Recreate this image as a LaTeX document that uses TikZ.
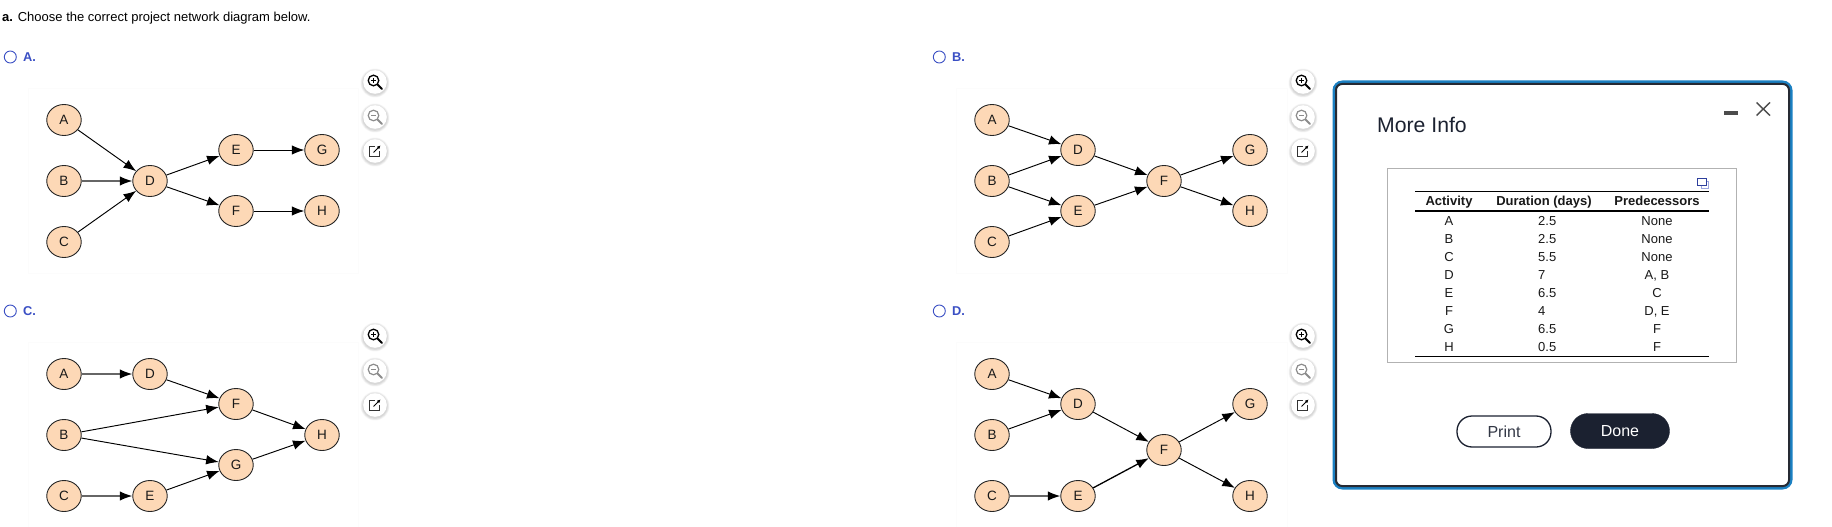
\documentclass[tikz,border=0pt]{standalone}
\usepackage{fontspec}
\setmainfont{Liberation Sans}
\usetikzlibrary{arrows.meta,shapes.geometric}
\definecolor{nodefill}{HTML}{FDD8B6}
\definecolor{optblue}{HTML}{3A4FC4}
\definecolor{dlgblue}{HTML}{1B80C2}
\definecolor{dlgdark}{HTML}{262A33}
\definecolor{navy}{HTML}{1B2130}
\newcommand{\fsz}[1]{\fontsize{#1}{#1}\selectfont}
\tikzset{
  x=1pt,y=-1pt,
  act/.style={draw=black!85,line width=0.9pt,fill=nodefill,ellipse,inner sep=0pt,minimum width=34.5pt,minimum height=31pt,font=\fsz{13.5},text=black!90},
  edge/.style={draw=black,line width=0.95pt,-{Latex[length=12.5pt,width=9.5pt]}},
  grayedge/.style={draw=black!60,line width=1.3pt,-{Latex[length=12.5pt,width=9.5pt,black]}},
  radio/.style={circle,draw=optblue,fill=white,line width=0.9pt,minimum size=12pt,inner sep=0pt},
  optlabel/.style={anchor=west,inner sep=0pt,text=optblue,font=\fsz{12.8}\bfseries},
  cell/.style={inner sep=0pt,anchor=base,font=\fsz{13},text=black!90},
  headcell/.style={inner sep=0pt,anchor=base,font=\fsz{13}\bfseries,text=black!90},
  panelbox/.style={draw=black!1,line width=0.5pt},
}
\newcommand{\btnbase}[2]{%
  \foreach \r in {14.5,14,13.5,13,12.5} {\fill[black,opacity=0.03] (#1,#2+1) circle[radius=\r];}
  \fill[white] (#1,#2) circle[radius=11.8];}
\newcommand{\btns}[2]{%
  \btnbase{#1}{#2}
  \draw[black,line width=1.3pt] (#1-1.5,#2-1.5) circle[radius=5.3];
  \draw[black,line width=2pt,line cap=round] (#1+2.5,#2+2.5) -- (#1+7,#2+7);
  \draw[black,line width=0.8pt] (#1-4,#2-1.5) -- (#1+1,#2-1.5) (#1-1.5,#2-4) -- (#1-1.5,#2+1);
  \btnbase{#1}{#2+35}
  \draw[black!45,line width=1.2pt] (#1-1.5,#2+33.5) circle[radius=5.3];
  \draw[black!45,line width=1.8pt,line cap=round] (#1+2.5,#2+37.5) -- (#1+7,#2+42);
  \draw[black!45,line width=0.8pt] (#1-4,#2+33.5) -- (#1+1,#2+33.5);
  \btnbase{#1}{#2+69}
  \draw[black!80,line width=0.9pt] (#1,#2+64.5) -- (#1-5.5,#2+64.5) -- (#1-5.5,#2+74.5) -- (#1+4.5,#2+74.5) -- (#1+4.5,#2+69);
  \draw[black,line width=0.9pt,-{Latex[length=3.5pt,width=3.5pt]}] (#1-1.5,#2+70.5) -- (#1+5.5,#2+63.5);}
\begin{document}
\begin{tikzpicture}
\useasboundingbox (0,0) rectangle (1832,527);
\fill[white] (0,0) rectangle (1832,527);
% heading
\node[anchor=west,inner sep=0pt,font=\fsz{13},text=black] (head) at (2,18) {\textbf{a.} Choose the correct project network diagram below.};
% option markers
\node[radio] (rA) at (10.3,57) {}; \node[optlabel] (lA) at (23,57) {A.};
\node[radio] (rB) at (939.3,57) {}; \node[optlabel] (lB) at (952,57) {B.};
\node[radio] (rC) at (10.3,311) {}; \node[optlabel] (lC) at (23,311) {C.};
\node[radio] (rD) at (939.3,311) {}; \node[optlabel] (lD) at (952,311) {D.};
% faint panels
\draw[panelbox] (28,88) rectangle (358,273);
\draw[panelbox] (956,88) rectangle (1287,273);
\draw[panelbox] (28,342) rectangle (358,527);
\draw[panelbox] (956,342) rectangle (1287,527);
% buttons
\btns{375}{82}
\btns{1303}{82}
\btns{375}{336}
\btns{1303}{336}
% Panel A
\node[act] (aA) at (64,120) {A};
\node[act] (aB) at (64,181) {B};
\node[act] (aC) at (64,242) {C};
\node[act] (aD) at (150,181) {D};
\node[act] (aE) at (236,150) {E};
\node[act] (aF) at (236,211) {F};
\node[act] (aG) at (322,150) {G};
\node[act] (aH) at (322,211) {H};
\draw[edge] (aA) -- (aD);
\draw[grayedge] (aB) -- (aD);
\draw[edge] (aC) -- (aD);
\draw[edge] (aD) -- (aE);
\draw[edge] (aD) -- (aF);
\draw[edge] (aE) -- (aG);
\draw[edge] (aF) -- (aH);
% Panel B
\node[act] (bA) at (992,120) {A};
\node[act] (bB) at (992,181) {B};
\node[act] (bC) at (992,242) {C};
\node[act] (bD) at (1078,150) {D};
\node[act] (bE) at (1078,211) {E};
\node[act] (bF) at (1164,181) {F};
\node[act] (bG) at (1250,150) {G};
\node[act] (bH) at (1250,211) {H};
\draw[edge] (bA) -- (bD);
\draw[edge] (bB) -- (bD);
\draw[edge] (bB) -- (bE);
\draw[edge] (bC) -- (bE);
\draw[edge] (bD) -- (bF);
\draw[edge] (bE) -- (bF);
\draw[edge] (bF) -- (bG);
\draw[edge] (bF) -- (bH);
% Panel C
\node[act] (cA) at (64,374) {A};
\node[act] (cB) at (64,435) {B};
\node[act] (cC) at (64,496) {C};
\node[act] (cD) at (150,374) {D};
\node[act] (cE) at (150,496) {E};
\node[act] (cF) at (236,404) {F};
\node[act] (cG) at (236,465) {G};
\node[act] (cH) at (322,435) {H};
\draw[grayedge] (cA) -- (cD);
\draw[edge] (cD) -- (cF);
\draw[edge] (cB) -- (cF);
\draw[edge] (cB) -- (cG);
\draw[grayedge] (cC) -- (cE);
\draw[edge] (cE) -- (cG);
\draw[edge] (cF) -- (cH);
\draw[edge] (cG) -- (cH);
% Panel D
\node[act] (dA) at (992,374) {A};
\node[act] (dB) at (992,435) {B};
\node[act] (dC) at (992,496) {C};
\node[act] (dD) at (1078,404) {D};
\node[act] (dE) at (1078,496) {E};
\node[act] (dF) at (1164,450) {F};
\node[act] (dG) at (1250,404) {G};
\node[act] (dH) at (1250,496) {H};
\draw[edge] (dA) -- (dD);
\draw[edge] (dB) -- (dD);
\draw[grayedge] (dC) -- (dE);
\draw[edge] (dD) -- (dF);
\draw[edge,line width=1.3pt] (dE) -- (dF);
\draw[edge] (dF) -- (dG);
\draw[edge] (dF) -- (dH);
% Dialog
\draw[dlgblue,line width=4pt,rounded corners=8pt,fill=white] (1334.5,82.5) rectangle (1790.5,487.5);
\draw[dlgdark,line width=2pt,rounded corners=6pt] (1336,84) rectangle (1789,486);
\node[anchor=west,inner sep=0pt,font=\fsz{21.2},text=navy] (title) at (1377,124.5) {More Info};
\fill[black!70] (1724,110.5) rectangle (1737.5,114.5);
\draw[black!70,line width=1.4pt] (1756.5,102.5) -- (1770,115.5) (1770,102.5) -- (1756.5,115.5);
% table
\draw[black!30,line width=1pt] (1387.5,168.5) rectangle (1736.5,362.5);
\draw[optblue!80!black,line width=1pt] (1697.5,178.5) rectangle (1706,185);
\draw[optblue!50,line width=0.7pt] (1701,185.5) -- (1701,188) -- (1708.5,188) -- (1708.5,181.5) -- (1706.5,181.5);
\draw[black,line width=1pt] (1415,191.5) -- (1709,191.5);
\draw[black,line width=2pt] (1415,211) -- (1709,211);
\draw[black,line width=1pt] (1415,356) -- (1709,356);
\node[headcell] (h1) at (1449,205) {Activity};
\node[headcell] (h2) at (1544,205) {Duration (days)};
\node[headcell] (h3) at (1657,205) {Predecessors};
\foreach \i/\a/\d/\p [count=\n from 0] in {A/A/2.5/None,B/B/2.5/None,C/C/5.5/None,D/D/7/{A, B},E/E/6.5/C,F/F/4/{D, E},G/G/6.5/F,H/H/0.5/F} {
  \node[cell] (ta\i) at (1449,225+18*\n) {\a};
  \node[cell,anchor=base west] (td\i) at (1538,225+18*\n) {\d};
  \node[cell] (tp\i) at (1657,225+18*\n) {\p};
}
% buttons
\node[draw=navy,line width=1.3pt,fill=white,rounded corners=15pt,minimum width=94pt,minimum height=31pt,inner sep=0pt,font=\fsz{16},text=navy!90] (print) at (1504,431.5) {Print};
\node[draw=navy,fill=navy,rounded corners=17.5pt,minimum width=99pt,minimum height=35pt,inner sep=0pt,font=\fsz{16},text=white] (done) at (1620,431) {Done};
\end{tikzpicture}
\end{document}
